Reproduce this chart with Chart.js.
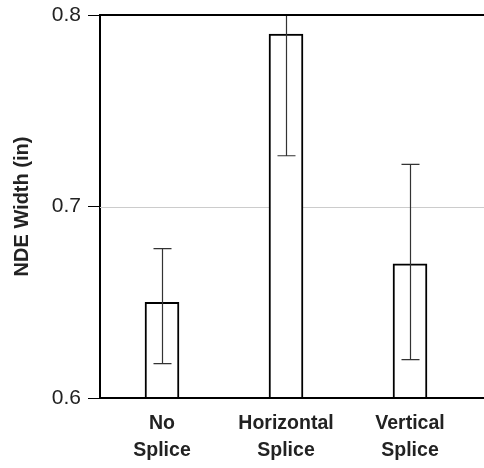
<!DOCTYPE html>
<html>
<head>
<meta charset="utf-8">
<script src="https://cdn.jsdelivr.net/npm/chart.js@4.4.1/dist/chart.umd.min.js"></script>
<style>
  html, body { margin: 0; padding: 0; background: #fff; }
  #wrap { width: 484px; height: 468px; position: relative; }
</style>
</head>
<body>
<div id="wrap"><canvas id="nde-chart"></canvas></div>
<script>
// splice types on the x axis
var categories = [["No", "Splice"], ["Horizontal", "Splice"], ["Vertical", "Splice"]];
// mean NDE width (in)
var meanWidth = [0.650, 0.790, 0.670];
// error bar ends
var errorHigh = [0.678, 0.853, 0.722];
var errorLow = [0.618, 0.7265, 0.620];
// y ticks
var yTicks = [0.6, 0.7, 0.8];

var frameLines = {
    id: 'frameLines',
    beforeDatasetsDraw: function (chart) {
        // light grid line for inner ticks, carried on to the right edge
        var ctx = chart.ctx;
        var area = chart.chartArea;
        var y = chart.scales.y;
        ctx.save();
        ctx.strokeStyle = '#cccccc';
        ctx.lineWidth = 1;
        yTicks.slice(1, -1).forEach(function (v) {
            var py = Math.round(y.getPixelForValue(v)) + 0.5;
            ctx.beginPath();
            ctx.moveTo(area.left, py);
            ctx.lineTo(chart.width, py);
            ctx.stroke();
        });
        ctx.restore();
    },
    afterDatasetsDraw: function (chart) {
        var ctx = chart.ctx;
        var area = chart.chartArea;
        var y = chart.scales.y;
        var meta = chart.getDatasetMeta(0);
        ctx.save();
        ctx.beginPath();
        ctx.rect(area.left, area.top - 1, area.right - area.left, area.bottom - area.top + 1);
        ctx.clip();
        ctx.strokeStyle = '#333';
        ctx.lineWidth = 1.2;
        meta.data.forEach(function (bar, i) {
            var x = Math.round(bar.x) + 0.5;
            var hi = y.getPixelForValue(errorHigh[i]);
            var lo = y.getPixelForValue(errorLow[i]);
            ctx.beginPath();
            ctx.moveTo(x, hi);
            ctx.lineTo(x, lo);
            ctx.moveTo(x - 9, hi);
            ctx.lineTo(x + 9, hi);
            ctx.moveTo(x - 9, lo);
            ctx.lineTo(x + 9, lo);
            ctx.stroke();
        });
        ctx.restore();

        // top and bottom frame lines run to the right edge
        ctx.save();
        ctx.strokeStyle = '#000';
        ctx.lineWidth = 2;
        [yTicks[0], yTicks[yTicks.length - 1]].forEach(function (v) {
            var py = Math.round(y.getPixelForValue(v));
            ctx.beginPath();
            ctx.moveTo(area.left - 1, py);
            ctx.lineTo(chart.width, py);
            ctx.stroke();
        });
        ctx.restore();
    }
};

var ctx = document.getElementById('nde-chart').getContext('2d');
var chart = new Chart(ctx, {
    type: 'bar',
    data: {
        labels: categories,
        datasets: [{
            data: meanWidth,
            backgroundColor: '#fff',
            borderColor: '#000',
            borderWidth: 2,
            borderSkipped: false,
            barThickness: 34
        }]
    },
    options: {
        responsive: true,
        maintainAspectRatio: false,
        animation: false,
        layout: { padding: { top: 15, right: 12, left: 0, bottom: 0 } },
        plugins: {
            legend: { display: false },
            tooltip: { enabled: false }
        },
        scales: {
            x: {
                grid: { display: false, drawTicks: false },
                border: { display: false },
                ticks: {
                    color: '#222',
                    padding: 12,
                    font: { family: "'Liberation Sans', Arial", size: 19.5, weight: 'bold', lineHeight: 1.4 }
                },
                afterFit: function (scale) { scale.height = 70; }
            },
            y: {
                min: 0.6,
                max: 0.8,
                afterBuildTicks: function (scale) {
                    scale.ticks = yTicks.map(function (v) { return { value: v }; });
                },
                grid: {
                    color: 'rgba(0,0,0,0)',
                    tickColor: '#000',
                    tickLength: 12,
                    lineWidth: 1
                },
                border: { display: true, color: '#000', width: 2 },
                ticks: {
                    color: '#222',
                    padding: 7,
                    font: { family: "'Liberation Sans', Arial", size: 21 },
                    callback: function (v) { return Number(v).toFixed(1); }
                },
                title: {
                    display: true,
                    text: 'NDE Width (in)',
                    color: '#222',
                    padding: { top: 10, bottom: 0 },
                    font: { family: "'Liberation Sans', Arial", size: 20, weight: 'bold', lineHeight: 1.2 }
                },
                afterFit: function (scale) {
                    scale.width = 100;
                    scale.paddingTop = 0;
                    scale.paddingBottom = 0;
                }
            }
        }
    },
    plugins: [frameLines]
});
</script>
</body>
</html>
